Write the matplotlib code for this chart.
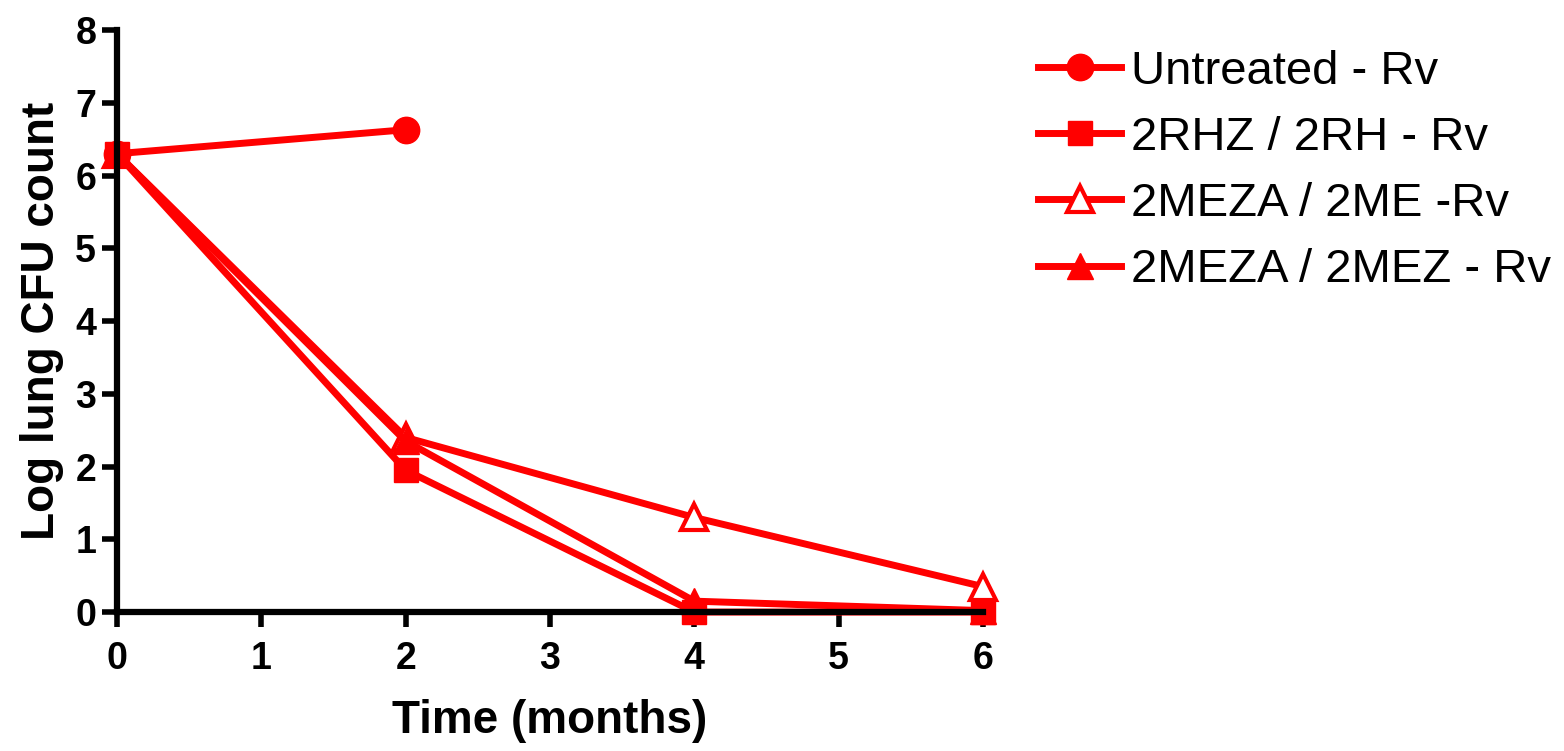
import matplotlib
matplotlib.use("Agg")
import matplotlib.pyplot as plt

plt.rcParams['font.family'] = ['Liberation Sans', 'DejaVu Sans']

# data
months_untreated = [0, 2]
untreated = [6.3, 6.63]
months = [0, 2, 4, 6]
rhz_rh = [6.3, 1.95, 0.0, 0.0]
meza_me = [6.3, 2.4, 1.3, 0.35]
meza_mez = [6.3, 2.35, 0.15, 0.02]

labels = ['Untreated - Rv', '2RHZ / 2RH - Rv', '2MEZA / 2ME -Rv', '2MEZA / 2MEZ - Rv']
red = '#ff0000'

fig = plt.figure(figsize=(15.64, 7.51), dpi=100)
ax = fig.add_axes([0.0748, 0.185, 0.5537, 0.775])

lw = 5
ms = 19
ax.plot(months_untreated, untreated, color=red, lw=lw, marker='o', ms=ms,
        label=labels[0], clip_on=False, zorder=3)
ax.plot(months, rhz_rh, color=red, lw=lw, marker='s', ms=ms - 2,
        label=labels[1], clip_on=False, zorder=3)
ax.plot(months, meza_me, color=red, lw=lw, marker='^', ms=ms, mfc='white',
        mec=red, mew=3, label=labels[2], clip_on=False, zorder=3)
ax.plot(months, meza_mez, color=red, lw=lw, marker='^', ms=ms,
        label=labels[3], clip_on=False, zorder=3)

ax.set_xlim(0, 6)
ax.set_ylim(0, 8)
ax.set_xticks(range(0, 7))
ax.set_yticks(range(0, 9))

for s in ['top', 'right']:
    ax.spines[s].set_visible(False)
for s in ['left', 'bottom']:
    ax.spines[s].set_linewidth(4.5)
    ax.spines[s].set_zorder(5)

ax.tick_params(direction='out', length=11, width=4, labelsize=27, pad=4)
ax.tick_params(axis='x', pad=10)
for t in ax.get_xticklabels() + ax.get_yticklabels():
    t.set_fontweight('bold')

ax.set_xlabel('Time (months)', fontsize=33, fontweight='bold', labelpad=16)
ax.set_ylabel('Log lung CFU count', fontsize=33, fontweight='bold', labelpad=8)

fig.legend(loc='upper left', bbox_to_anchor=(0.664, 0.934), frameon=False,
           fontsize=34, handlelength=1.75, handletextpad=0.2, labelspacing=0.47,
           borderpad=0, borderaxespad=0)

fig.savefig('out.png', dpi=100)
